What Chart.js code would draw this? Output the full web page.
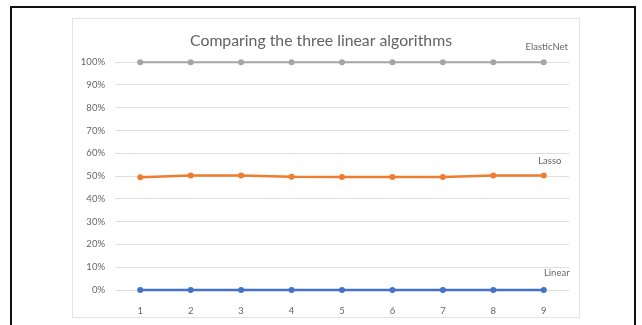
<!DOCTYPE html>
<html>
<head>
<meta charset="utf-8">
<script src="https://cdn.jsdelivr.net/npm/chart.js@4/dist/chart.umd.min.js"></script>
<style>
  html, body { margin: 0; padding: 0; background: #fff; width: 642px; height: 325px; overflow: hidden; }
  #outer { position: absolute; left: 10px; top: 6px; width: 626px; height: 330px; border: 2px solid #111; box-sizing: border-box; }
  #frame { position: absolute; left: 72px; top: 18px; width: 508px; height: 300px; border: 1px solid #e4e4e4; box-sizing: border-box; }
  #frame canvas { position: absolute; left: 0; top: 0; }
</style>
</head>
<body>
<div id="outer"></div>
<div id="frame"><canvas id="c" width="508" height="300"></canvas></div>
<script>
// Runs 1..9 and the score of each model, in percent
const runs = ['1', '2', '3', '4', '5', '6', '7', '8', '9'];
const linearScores = [0, 0, 0, 0, 0, 0, 0, 0, 0];
const lassoScores = [49.5, 50.2, 50.3, 49.7, 49.6, 49.6, 49.6, 50.2, 50.3];
const elasticNetScores = [100, 100, 100, 100, 100, 100, 100, 100, 100];
const yTicks = [0, 10, 20, 30, 40, 50, 60, 70, 80, 90, 100];
const titleText = 'Comparing the three linear algorithms';

const FONT = 'Lato, "Open Sans", sans-serif';
const TEXT = '#666666';

// Writes each series name just above its last point
const seriesNames = {
  id: 'seriesNames',
  afterDatasetsDraw(chart, args, opts) {
    const ctx = chart.ctx;
    ctx.save();
    ctx.font = '9.5px ' + FONT;
    ctx.fillStyle = TEXT;
    ctx.textAlign = 'center';
    ctx.textBaseline = 'middle';
    chart.data.datasets.forEach((ds, i) => {
      const meta = chart.getDatasetMeta(i);
      const pt = meta.data[meta.data.length - 1];
      const off = opts.offsets[ds.label] || [0, -15];
      ctx.fillText(ds.label, pt.x + off[0], pt.y + off[1]);
    });
    ctx.restore();
  }
};

const makeSet = (label, data, color, width) => ({
  label, data,
  borderColor: color,
  backgroundColor: color,
  borderWidth: width,
  pointRadius: 3,
  pointHoverRadius: 3,
  pointBorderWidth: 0,
  tension: 0,
  clip: false
});

new Chart(document.getElementById('c'), {
  type: 'line',
  data: {
    labels: runs,
    datasets: [
      makeSet('Linear', linearScores, '#4472c4', 2.5),
      makeSet('Lasso', lassoScores, '#ed7d31', 2.5),
      makeSet('ElasticNet', elasticNetScores, '#a5a5a5', 2)
    ]
  },
  options: {
    responsive: false,
    animation: false,
    layout: { padding: { left: 0, right: 12, top: 0, bottom: 0 } },
    plugins: {
      legend: { display: false },
      tooltip: { enabled: false },
      title: {
        display: true,
        text: titleText,
        color: '#626262',
        font: { family: FONT, size: 15.8, weight: 'normal' },
        padding: { top: 12, bottom: 12.2 }
      },
      seriesNames: { offsets: { ElasticNet: [3, -15], Lasso: [6, -14], Linear: [13, -17] } }
    },
    scales: {
      x: {
        offset: true,
        grid: { display: false, drawTicks: false },
        border: { display: false },
        ticks: { color: TEXT, font: { family: FONT, size: 9.5 }, padding: 15 },
        afterFit(s) { s.height = 29; }
      },
      y: {
        min: 0, max: 100,
        afterBuildTicks(s) { s.ticks = yTicks.map(v => ({ value: v })); },
        grid: { color: '#dedede', lineWidth: 1, drawTicks: false },
        border: { display: false },
        ticks: {
          color: TEXT,
          font: { family: FONT, size: 9.5 },
          padding: 10,
          callback: v => v + '%'
        },
        afterFit(s) { s.width = 42; }
      }
    }
  },
  plugins: [seriesNames]
});
</script>
</body>
</html>
